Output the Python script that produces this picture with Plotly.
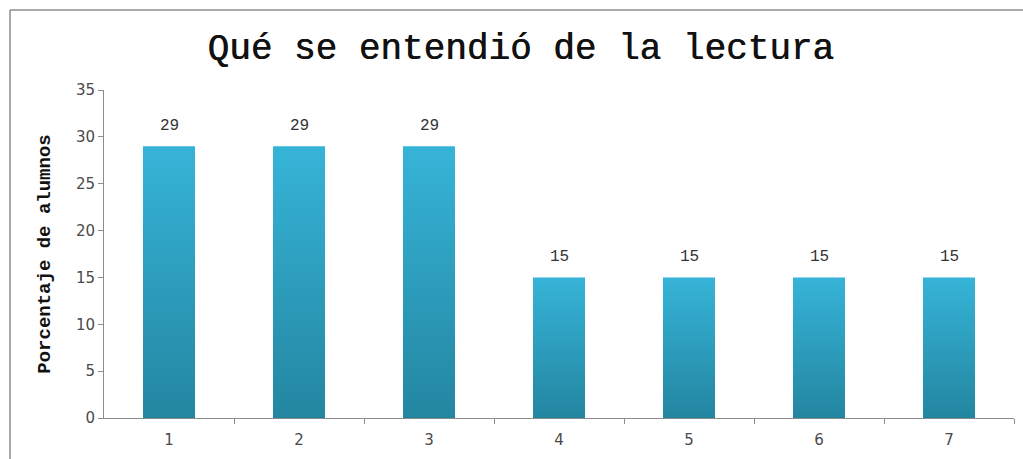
import plotly.graph_objects as go

# Data
categorias = [1, 2, 3, 4, 5, 6, 7]
porcentajes = [29, 29, 29, 15, 15, 15, 15]
titulo = "Qué se entendió de la lectura"
titulo_y = "Porcentaje de alumnos"
ticks_y = [0, 5, 10, 15, 20, 25, 30, 35]

ANCHO_BARRA = 0.4
COLOR_ARRIBA = "#36b4d8"
COLOR_ABAJO = "#2386a1"
GRIS = "#8c8c8c"
TEXTO = "#4a4a4a"

fig = go.Figure()

# Each bar is a filled rectangle with a vertical gradient (light on top, dark at base)
for x, v in zip(categorias, porcentajes):
    x0, x1 = x - ANCHO_BARRA / 2, x + ANCHO_BARRA / 2
    fig.add_trace(go.Scatter(
        x=[x0, x1, x1, x0, x0],
        y=[0, 0, v, v, 0],
        mode="lines",
        line=dict(width=0),
        fill="toself",
        fillgradient=dict(
            type="vertical",
            colorscale=[[0, COLOR_ABAJO], [1, COLOR_ARRIBA]],
            start=0,
            stop=v,
        ),
        hoverinfo="skip",
        showlegend=False,
    ))

# Value labels above the bars
for x, v in zip(categorias, porcentajes):
    fig.add_annotation(
        x=x, y=v, text=str(v), showarrow=False,
        yanchor="bottom", yshift=9,
        font=dict(family="Liberation Mono", size=16, color="#333333"),
    )

# Outer frame (top and left edges)
px_l, px_r, px_t, px_b = 104, 9, 90, 41
W = 1023 - px_l - px_r
H = 459 - px_t - px_b
fx = (10 - px_l) / W
fy = (459 - px_b - 10) / H
fig.add_shape(type="line", xref="paper", yref="paper",
              x0=fx, x1=(1023 - px_l) / W, y0=fy, y1=fy,
              line=dict(color=GRIS, width=1.5))
fig.add_shape(type="line", xref="paper", yref="paper",
              x0=fx, x1=fx, y0=fy, y1=(459 - px_b - 470) / H,
              line=dict(color=GRIS, width=1.5))

fig.update_layout(
    width=1023, height=459,
    margin=dict(l=px_l, r=px_r, t=px_t, b=px_b),
    paper_bgcolor="white", plot_bgcolor="white",
    title=dict(
        text=titulo, x=0.509, xanchor="center", y=0.9, yanchor="middle",
        font=dict(family="Liberation Mono", size=36, color="#111111",
                  shadow="0.6px 0.6px 0px #111111"),
    ),
    xaxis=dict(
        range=[0.5, 7.5], tickvals=categorias, ticktext=[str(c) for c in categorias],
        ticks="", showline=True, linecolor=GRIS, linewidth=1,
        showgrid=False, zeroline=False, ticklabelstandoff=8,
        tickfont=dict(family="DejaVu Sans", size=15, color=TEXTO),
        fixedrange=True,
    ),
    xaxis2=dict(
        overlaying="x", matches="x", range=[0.5, 7.5],
        tickvals=[c + 0.5 for c in categorias], showticklabels=False,
        ticks="outside", ticklen=5, tickcolor=GRIS, showgrid=False, zeroline=False,
        side="bottom", anchor="y",
    ),
    yaxis=dict(
        range=[0, 35], tickvals=ticks_y, ticks="outside", ticklen=5, tickcolor=GRIS,
        showline=True, linecolor=GRIS, linewidth=1, showgrid=False, zeroline=False,
        tickfont=dict(family="DejaVu Sans", size=15, color=TEXTO),
        title=dict(text=titulo_y, standoff=20,
                   font=dict(family="Liberation Mono", size=19, color="#111111", weight="bold")),
    ),
)

# invisible trace to bring the boundary-tick axis into the figure
fig.add_trace(go.Scatter(x=[1], y=[0], xaxis="x2", mode="markers",
                         marker=dict(opacity=0), hoverinfo="skip", showlegend=False))

fig.write_html("out.html")
